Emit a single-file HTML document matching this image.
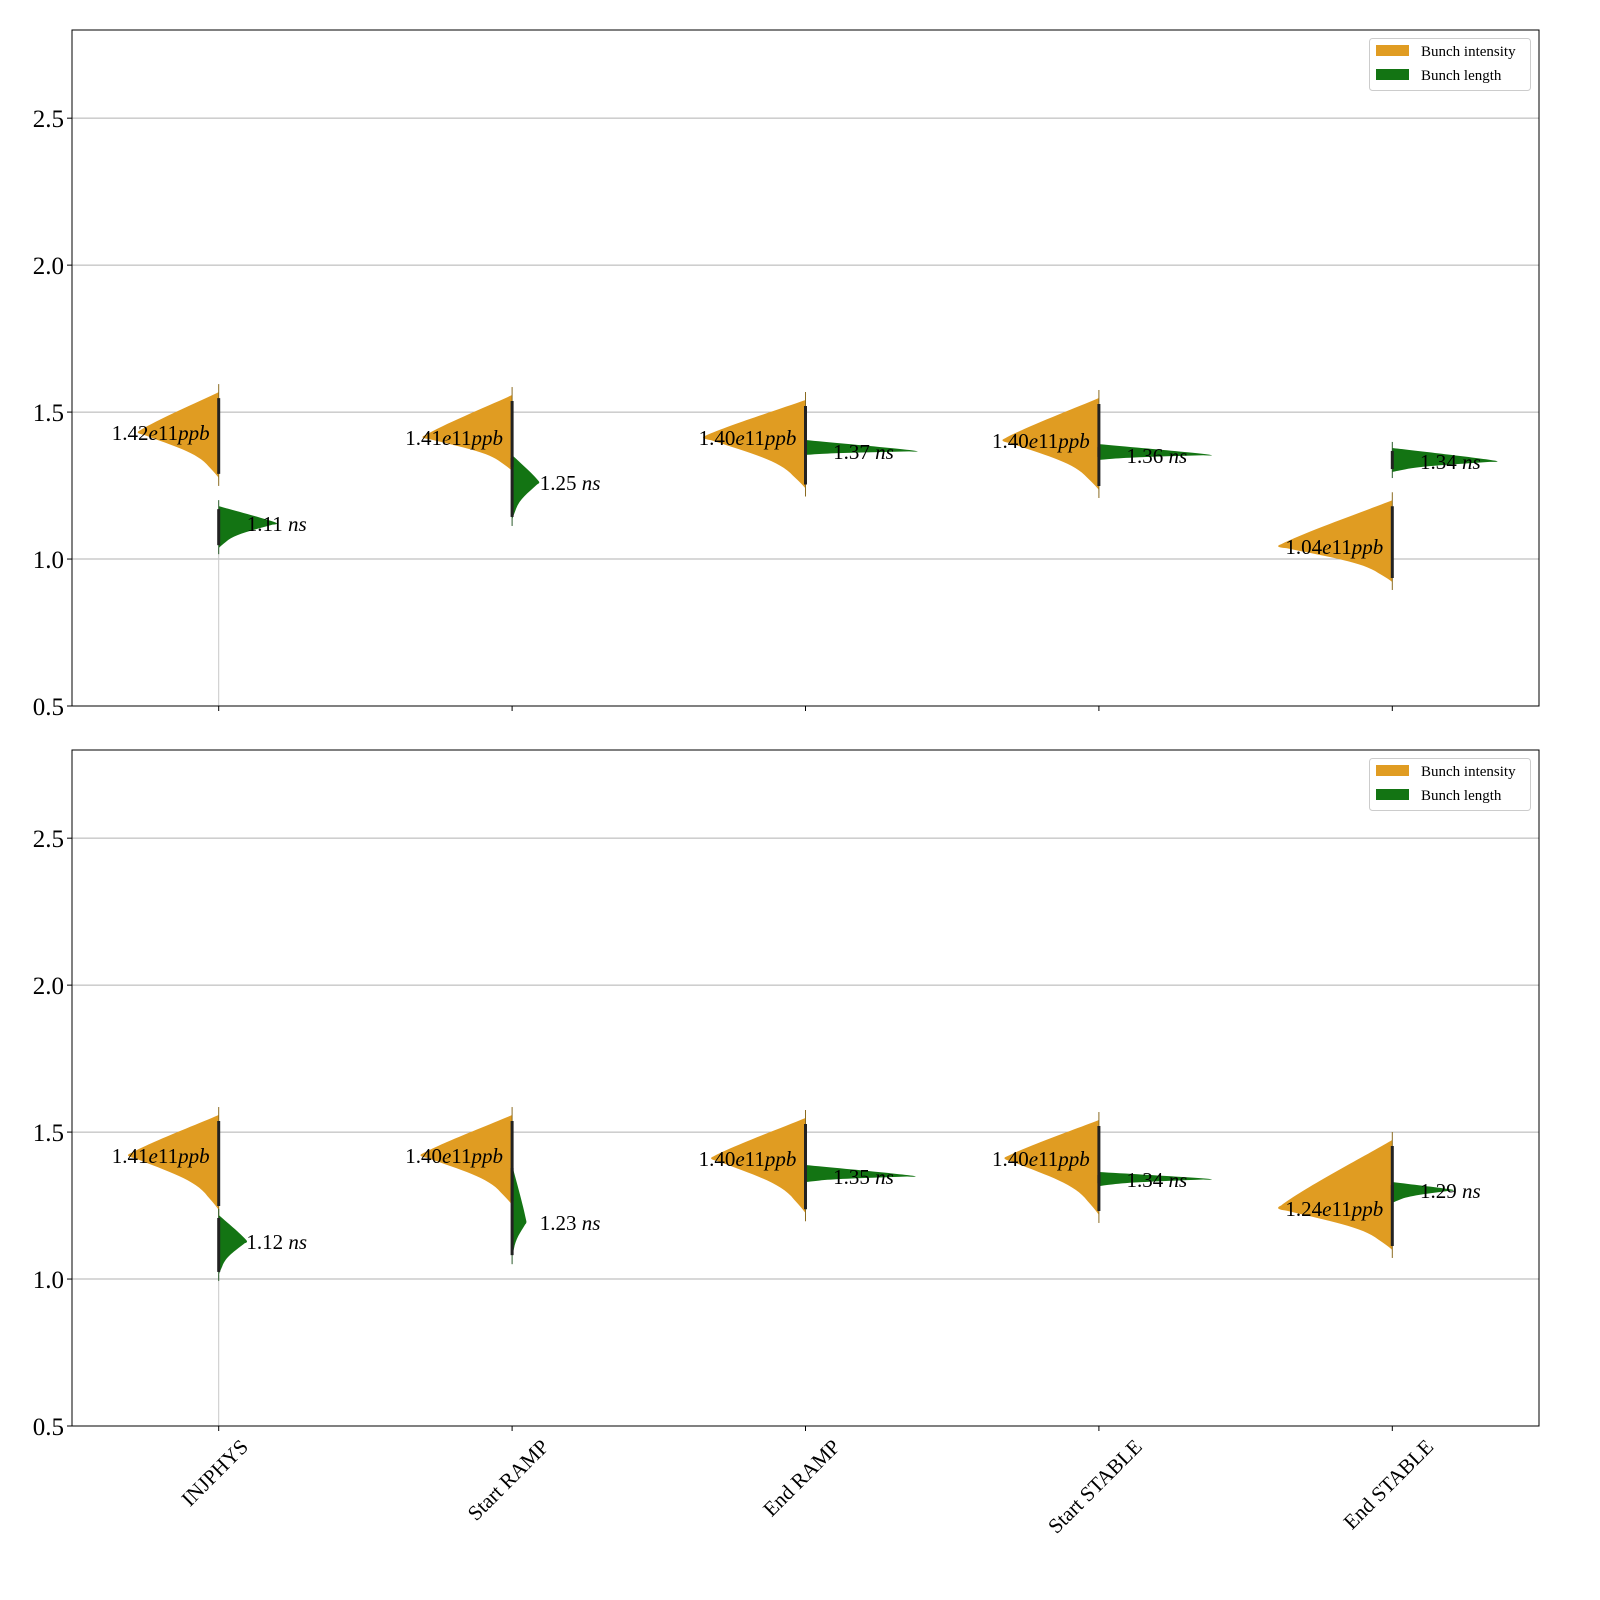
<!DOCTYPE html>
<html><head><meta charset="utf-8"><style>
html,body{margin:0;padding:0;background:#fff;overflow:hidden;width:1600px;height:1600px;}
svg{display:block;font-family:"Liberation Serif",serif;}
</style></head><body>
<svg id="chart" width="1600" height="1600" viewBox="0 0 1600 1600" xmlns="http://www.w3.org/2000/svg"></svg>
<script>
const categories = ["INJPHYS","Start RAMP","End RAMP","Start STABLE","End STABLE"];
const yTicks = [0.5,1.0,1.5,2.0,2.5];
// Panel 1 intensity violins: top, bottom, tip (median), half-width (category units)
const p1IntTop = [1.568,1.558,1.541,1.548,1.200];
const p1IntBot = [1.276,1.300,1.240,1.235,0.922];
const p1IntTip = [1.432,1.415,1.415,1.405,1.044];
const p1IntW   = [0.283,0.313,0.358,0.337,0.399];
const p1IntLbl = ["1.42","1.41","1.40","1.40","1.04"];
const p1LenTop = [1.180,1.354,1.405,1.391,1.378];
const p1LenBot = [1.037,1.133,1.354,1.337,1.296];
const p1LenTip = [1.122,1.262,1.367,1.354,1.333];
const p1LenW   = [0.204,0.095,0.392,0.395,0.368];
const p1LenLbl = ["1.11","1.25","1.37","1.36","1.34"];
// Panel 2
const p2IntTop = [1.558,1.558,1.548,1.541,1.473];
const p2IntBot = [1.235,1.252,1.224,1.218,1.099];
const p2IntTip = [1.422,1.422,1.412,1.412,1.241];
const p2IntW   = [0.317,0.320,0.330,0.330,0.399];
const p2IntLbl = ["1.41","1.40","1.40","1.40","1.24"];
const p2LenTop = [1.218,1.388,1.388,1.364,1.330];
const p2LenBot = [1.014,1.071,1.330,1.316,1.259];
const p2LenTip = [1.129,1.194,1.350,1.340,1.303];
const p2LenW   = [0.099,0.050,0.385,0.395,0.215];
const p2LenLbl = ["1.12","1.23","1.35","1.34","1.29"];

const NS="http://www.w3.org/2000/svg";
const svg=document.getElementById('chart');
function mk(tag,attrs,parent){const e=document.createElementNS(NS,tag);for(const k in attrs)e.setAttribute(k,attrs[k]);(parent||svg).appendChild(e);return e;}
const X0=72,X1=1539,YMIN=0.5,YMAX=2.8;
const xs=i=>X0+(i+0.5)/5*(X1-X0);
const wpx=w=>w/5*(X1-X0);

function shape(cx,w,yt,yp,yb,s){
  // s=-1 left, +1 right
  const a=yp-yt,b=yb-yp;
  return `M${cx},${yt} C${cx+s*0.25*w},${yt+0.25*a} ${cx+s*0.75*w},${yp-0.3*a} ${cx+s*0.95*w},${yp-0.04*a} `+
    `Q${cx+s*1.02*w},${yp+1} ${cx+s*0.9*w},${yp+0.06*b} `+
    `C${cx+s*0.55*w},${yp+0.3*b} ${cx+s*0.25*w},${yp+0.45*b} ${cx+s*0.12*w},${yp+0.75*b} `+
    `Q${cx+s*0.03*w},${yb-0.08*b} ${cx},${yb} Z`;
}

function panel(top,bottom,d,idx,showX){
  const ys=v=>bottom-(v-YMIN)/(YMAX-YMIN)*(bottom-top);
  const g=mk('g',{});
  
  
  yTicks.forEach(t=>{
    const l=mk('line',{x1:X0,x2:X1,y1:ys(t),y2:ys(t),stroke:'#b0b0b0','stroke-width':1},g);
    
    const tk=mk('line',{x1:X0-5,x2:X0,y1:ys(t),y2:ys(t),stroke:'#000'},g);
    
    const tx=mk('text',{x:X0-8,y:ys(t)+9,'text-anchor':'end','font-size':25},g);
    tx.textContent=t.toFixed(1);
    
  });
  const vl=mk('line',{x1:xs(0),x2:xs(0),y1:ys(d.lenBot[0]),y2:bottom,stroke:'#c8c8c8','stroke-width':1},g);
  
  categories.forEach((c,i)=>{
    const cx=xs(i);
    let w=wpx(d.intW[i]),yt=ys(d.intTop[i]),yb=ys(d.intBot[i]),yp=ys(d.intTip[i]);
    const vi=mk('path',{d:shape(cx,w,yt,yp,yb,-1),fill:'#e09c22'},g);
    
    const s1=mk('line',{x1:cx,x2:cx,y1:yt-8,y2:yb+8,stroke:'#8a6a20','stroke-width':1},g);
    
    w=wpx(d.lenW[i]);const lt=ys(d.lenTop[i]),lb=ys(d.lenBot[i]),lp=ys(d.lenTip[i]);
    const vg=mk('path',{d:shape(cx,w,lt,lp,lb,1),fill:'#137413'},g);
    
    const s2=mk('line',{x1:cx,x2:cx,y1:lt-6,y2:lb+6,stroke:'#2a5a2a','stroke-width':1},g);
    
    const b1=mk('line',{x1:cx,x2:cx,y1:yt+6,y2:yb-4,stroke:'#222','stroke-width':3},g);
    
    const b2=mk('line',{x1:cx,x2:cx,y1:lt+3,y2:lb-3,stroke:'#222','stroke-width':3},g);
    
    const t1=mk('text',{x:cx-58,y:yp+8,'text-anchor':'middle','font-size':21},g);
    t1.innerHTML=d.intLbl[i]+'<tspan font-style="italic">e</tspan>11<tspan font-style="italic">ppb</tspan>';
    
    const t2=mk('text',{x:cx+58,y:lp+8,'text-anchor':'middle','font-size':21},g);
    t2.innerHTML=d.lenLbl[i]+' <tspan font-style="italic">ns</tspan>';
    
    const xt=mk('line',{x1:cx,x2:cx,y1:bottom,y2:bottom+5,stroke:'#000'},g);
    
    if(showX){
      const lbl=mk('text',{'text-anchor':'middle','font-size':21,x:0,y:0},g);
      lbl.textContent=c;
      const L=lbl.getComputedTextLength();
      const cy=bottom+11+L*0.3535+6;
      lbl.setAttribute('transform',`translate(${cx-4},${cy}) rotate(-45) translate(0,7)`);
      
    }
  });
  const fr=mk('rect',{x:X0,y:top,width:X1-X0,height:bottom-top,fill:'none',stroke:'#000','stroke-width':1},g);
  
  const lg=mk('g',{},g);
  
  mk('rect',{x:1369.5,y:top+8.5,width:161,height:52,rx:3,fill:'#fff',stroke:'#ccc'},lg);
  [['#e09c22','Bunch intensity'],['#137413','Bunch length']].forEach((e,k)=>{
    const en=mk('g',{},lg);
    
    mk('rect',{x:1376,y:top+15+k*24,width:33,height:11,fill:e[0]},en);
    const t=mk('text',{x:1421,y:top+26+k*24,'font-size':15},en);t.textContent=e[1];
  });
}
panel(30,706,{intTop:p1IntTop,intBot:p1IntBot,intTip:p1IntTip,intW:p1IntW,intLbl:p1IntLbl,lenTop:p1LenTop,lenBot:p1LenBot,lenTip:p1LenTip,lenW:p1LenW,lenLbl:p1LenLbl},1,false);
panel(750,1426,{intTop:p2IntTop,intBot:p2IntBot,intTip:p2IntTip,intW:p2IntW,intLbl:p2IntLbl,lenTop:p2LenTop,lenBot:p2LenBot,lenTip:p2LenTip,lenW:p2LenW,lenLbl:p2LenLbl},2,true);
</script>
</body></html>
